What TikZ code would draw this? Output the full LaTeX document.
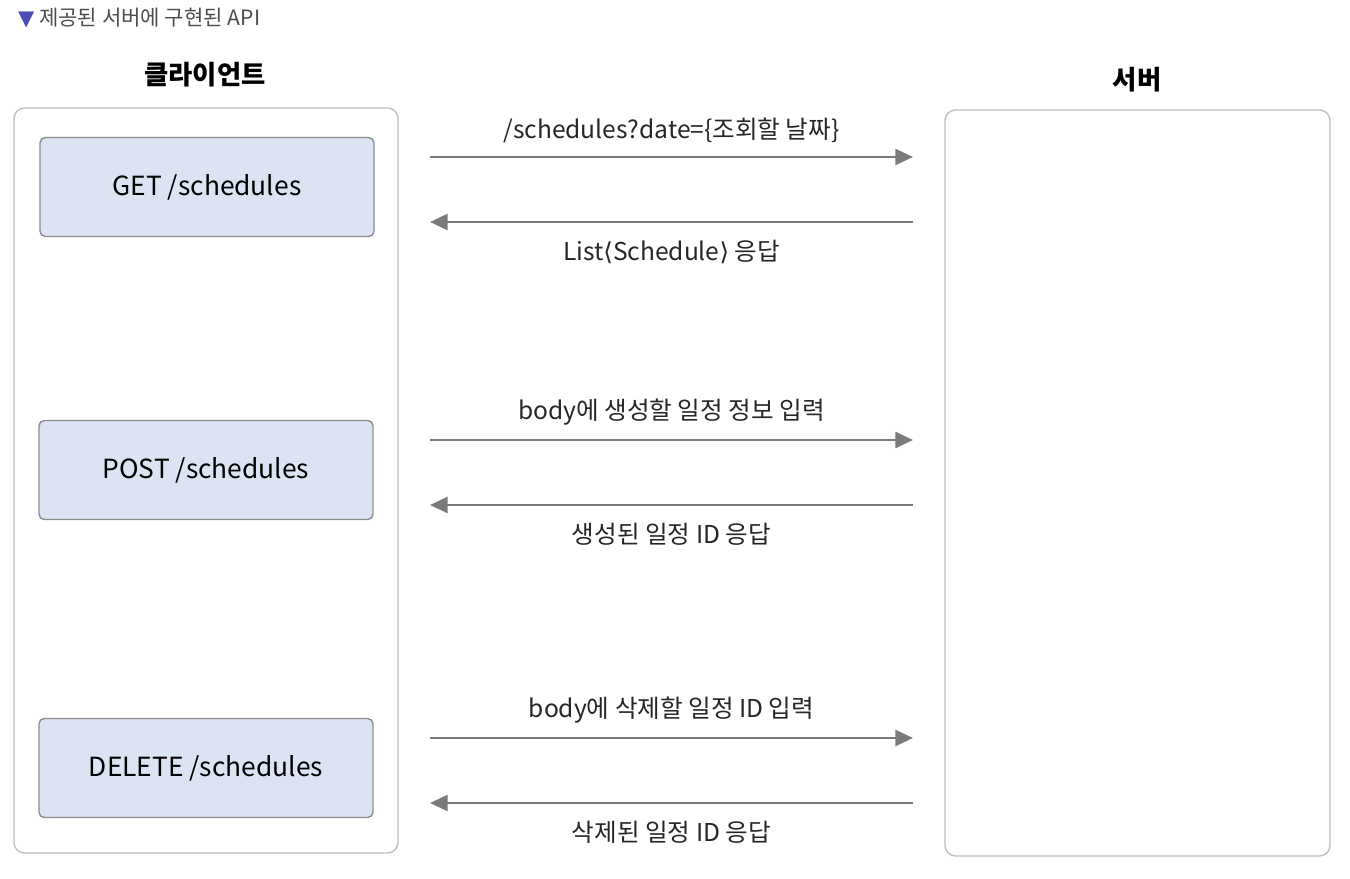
\documentclass[tikz,border=0pt]{standalone}
\usepackage{fontspec}
\setmainfont{Noto Sans CJK KR}
\newfontfamily\symfont{DejaVu Sans}
\usetikzlibrary{positioning,arrows.meta}
\definecolor{boxblue}{HTML}{DCE4F4}
\definecolor{arrowgray}{HTML}{7A7A7A}
\tikzset{
  side/.style={draw=black!25, rounded corners=6pt, line width=0.8pt, fill=white},
  call/.style={draw=black!45, fill=boxblue, rounded corners=3pt, line width=0.8pt,
    minimum width=6.68cm, minimum height=1.98cm, font=\fontsize{15}{18}\selectfont},
  msg/.style={draw=arrowgray, line width=1.6pt, -{Triangle[length=10pt,width=9pt]}},
  lbl/.style={font=\fontsize{14}{17}\selectfont, text=black!85}
}
\begin{document}
\begin{tikzpicture}[x=0.02cm,y=-0.02cm]
\useasboundingbox (0,0) rectangle (1350,879);
\node[anchor=west, font=\fontsize{12}{14}\selectfont, text=black!70] (title) at (12,18)
  {{\symfont\color{blue!40!gray}▼}\ 제공된 서버에 구현된 API};
\node[font=\fontsize{15}{18}\selectfont\bfseries] (clienthead) at (205,75) {클라이언트};
\node[font=\fontsize{15}{18}\selectfont\bfseries] (serverhead) at (1137,80) {서버};
\draw[side] (14,108) rectangle (398,853);
\draw[side] (945,110) rectangle (1330,856);
\node[call] (get) at (207,187) {GET /schedules};
\node[call] (post) at (206,470) {POST /schedules};
\node[call] (del) at (206,768) {DELETE /schedules};
% requests and responses
\foreach \y/\req/\res in {157/{/schedules?date=\{조회할 날짜\}}/{List{\symfont⟨}Schedule{\symfont⟩} 응답},
    440/{body에 생성할 일정 정보 입력}/{생성된 일정 ID 응답},
    738/{body에 삭제할 일정 ID 입력}/{삭제된 일정 ID 응답}}{
  \coordinate (l) at (430,\y);
  \coordinate (r) at (913,\y);
  \coordinate (l2) at (430,\y+65);
  \coordinate (r2) at (913,\y+65);
  \draw[msg] (l) -- node[lbl, above=4pt] {\req} (r);
  \draw[msg] (r2) -- node[lbl, below=6pt] {\res} (l2);
}
\end{tikzpicture}
\end{document}
